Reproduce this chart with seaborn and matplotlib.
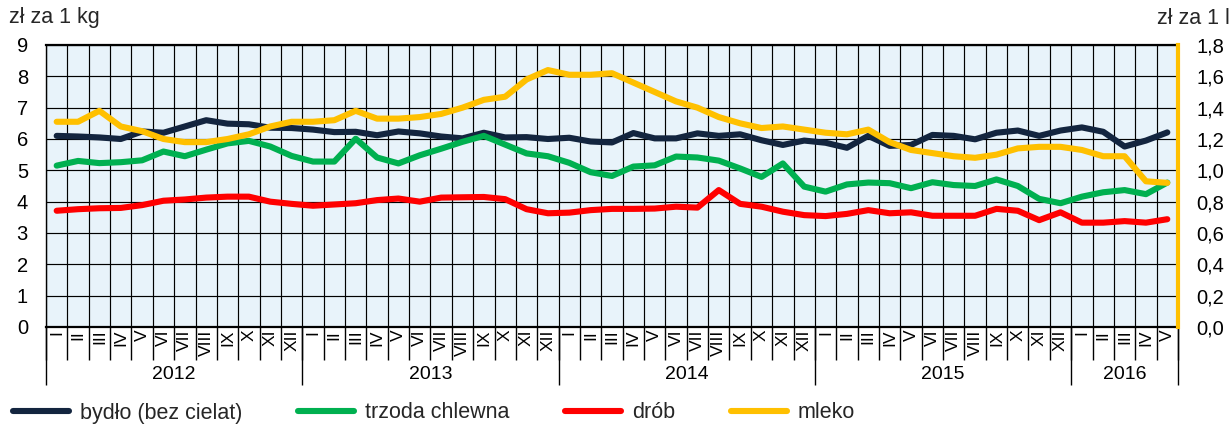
import numpy as np
import pandas as pd
import matplotlib.pyplot as plt
import seaborn as sns

# months I 2012 - V 2016
months = ["I", "II", "III", "IV", "V", "VI", "VII", "VIII", "IX", "X", "XI", "XII"]
years = ["2012", "2013", "2014", "2015", "2016"]
month_labels = months * 4 + months[:5]

# zł za 1 kg
bydlo = [6.10, 6.08, 6.05, 6.00, 6.24, 6.20, 6.40, 6.60, 6.49, 6.47, 6.36, 6.35,
         6.30, 6.22, 6.23, 6.12, 6.24, 6.18, 6.08, 6.02, 6.20, 6.05, 6.06, 6.00,
         6.04, 5.92, 5.89, 6.19, 6.02, 6.02, 6.18, 6.10, 6.15, 5.96, 5.81, 5.95,
         5.88, 5.72, 6.10, 5.78, 5.81, 6.13, 6.10, 5.99, 6.20, 6.27, 6.10, 6.27,
         6.37, 6.23, 5.76, 5.95, 6.21]
trzoda = [5.15, 5.30, 5.23, 5.26, 5.32, 5.60, 5.45, 5.66, 5.86, 5.94, 5.76, 5.46,
          5.28, 5.28, 6.01, 5.41, 5.22, 5.48, 5.69, 5.91, 6.10, 5.82, 5.54, 5.45,
          5.24, 4.94, 4.82, 5.12, 5.16, 5.44, 5.41, 5.31, 5.06, 4.79, 5.22, 4.48,
          4.32, 4.55, 4.61, 4.59, 4.43, 4.62, 4.53, 4.50, 4.71, 4.50, 4.09, 3.95,
          4.16, 4.30, 4.37, 4.24, 4.61]
drob = [3.71, 3.76, 3.79, 3.80, 3.89, 4.03, 4.07, 4.13, 4.16, 4.16, 4.00, 3.93,
        3.87, 3.91, 3.95, 4.05, 4.10, 4.00, 4.13, 4.14, 4.15, 4.08, 3.76, 3.63,
        3.65, 3.73, 3.77, 3.77, 3.78, 3.84, 3.81, 4.37, 3.93, 3.84, 3.68, 3.57,
        3.54, 3.61, 3.73, 3.63, 3.66, 3.55, 3.55, 3.55, 3.77, 3.71, 3.41, 3.66,
        3.33, 3.33, 3.38, 3.33, 3.44]
# zł za 1 l
mleko = [1.31, 1.31, 1.38, 1.28, 1.25, 1.20, 1.18, 1.18, 1.20, 1.23, 1.28, 1.31,
         1.31, 1.32, 1.38, 1.33, 1.33, 1.34, 1.36, 1.40, 1.45, 1.47, 1.58, 1.64,
         1.61, 1.61, 1.62, 1.56, 1.50, 1.44, 1.40, 1.34, 1.30, 1.27, 1.28, 1.26,
         1.24, 1.23, 1.26, 1.18, 1.13, 1.11, 1.09, 1.08, 1.10, 1.14, 1.15, 1.15,
         1.13, 1.09, 1.09, 0.93, 0.92]

df = pd.DataFrame({"t": np.arange(len(bydlo)), "bydlo": bydlo, "trzoda": trzoda,
                   "drob": drob, "mleko": mleko})

sns.set_theme(style="white")
plt.rcParams['font.family'] = ['Liberation Sans', 'DejaVu Sans']

W, H = 1232, 425
fig = plt.figure(figsize=(W / 100, H / 100), dpi=100)
ax = fig.add_axes([46 / W, 1 - 327 / H, (1178 - 46) / W, (327 - 45) / H])
ax.set_facecolor('#E8F3FA')
ax2 = ax.twinx()

lw = 4.4
kw = dict(linewidth=lw, solid_capstyle='round', solid_joinstyle='round')
sns.lineplot(data=df, x="t", y="bydlo", ax=ax, color="#13253F", label="bydło (bez cielat)", **kw)
sns.lineplot(data=df, x="t", y="trzoda", ax=ax, color="#00B050", label="trzoda chlewna", **kw)
sns.lineplot(data=df, x="t", y="drob", ax=ax, color="#FF0000", label="drób", **kw)
sns.lineplot(data=df, x="t", y="mleko", ax=ax2, color="#FFC000", label="mleko", **kw)

h1, l1 = ax.get_legend_handles_labels()
h2, l2 = ax2.get_legend_handles_labels()
ax.legend_.remove()
ax2.legend_.remove()

for a in (ax, ax2):
    a.set_xlabel("")
    a.set_ylabel("")

# x axis: month boundaries as ticks/grid, roman numerals in between
n = len(bydlo)
ax.set_xlim(-0.5, n - 0.5)
ax.set_xticks(np.arange(-0.5, n, 1))
ax.set_xticklabels([])
ax.set_xticks(np.arange(n), minor=True)
ax.set_xticklabels(month_labels, minor=True, rotation=90, fontsize=12.5)
ax.tick_params(axis='x', which='major', bottom=True, length=24, width=1, color='black', direction='out')
ax.tick_params(axis='x', which='minor', bottom=True, length=0, pad=2, labelcolor='black')

ax.set_ylim(0, 9)
ax.set_yticks(range(10))
ax.tick_params(axis='y', length=0, pad=13, labelsize=14.5, labelcolor='black')
ax.grid(True, which='major', color='black', linewidth=0.85)

ax2.set_ylim(0, 1.8)
rt = np.round(np.arange(0, 1.81, 0.2), 1)
ax2.set_yticks(rt)
ax2.set_yticklabels([f"{v:.1f}".replace('.', ',') for v in rt])
ax2.tick_params(axis='y', length=0, pad=13, labelsize=14.5, labelcolor='black')
ax2.grid(False)

for s in ['top', 'bottom', 'left']:
    ax.spines[s].set_color('black')
ax.spines['top'].set_linewidth(1.6)
ax.spines['bottom'].set_linewidth(1.6)
ax.spines['left'].set_linewidth(1.0)
ax.spines['right'].set_visible(False)
for s in ['top', 'bottom', 'left']:
    ax2.spines[s].set_visible(False)
ax2.spines['right'].set_color('#FFC000')
ax2.spines['right'].set_linewidth(3)

# year separators and labels
sec = ax.secondary_xaxis('bottom')
bounds = [-0.5, 11.5, 23.5, 35.5, 47.5, n - 0.5]
sec.set_xticks(bounds)
sec.set_xticklabels([])
sec.set_xticks([(bounds[i] + bounds[i + 1]) / 2 for i in range(5)], minor=True)
sec.set_xticklabels(years, minor=True, fontsize=14)
sec.tick_params(which='major', bottom=True, length=42, width=1, color='black')
sec.tick_params(which='minor', bottom=True, length=0, pad=28, labelcolor='black')
sec.spines['bottom'].set_color('black')

fig.text(9 / W, 1 - 18 / H, "zł za 1 kg", fontsize=15.5, va='center', ha='left')
fig.text(1230 / W, 1 - 18 / H, "zł za 1 l", fontsize=15.5, va='center', ha='right')

fig.legend(h1 + h2, l1 + l2, loc='center left', bbox_to_anchor=(13 / W, 1 - 413 / H),
           ncol=4, frameon=False, fontsize=15.5, handlelength=2.6, handletextpad=0.5,
           columnspacing=2.6, borderpad=0, borderaxespad=0)

fig.savefig("out.png", dpi=100)
